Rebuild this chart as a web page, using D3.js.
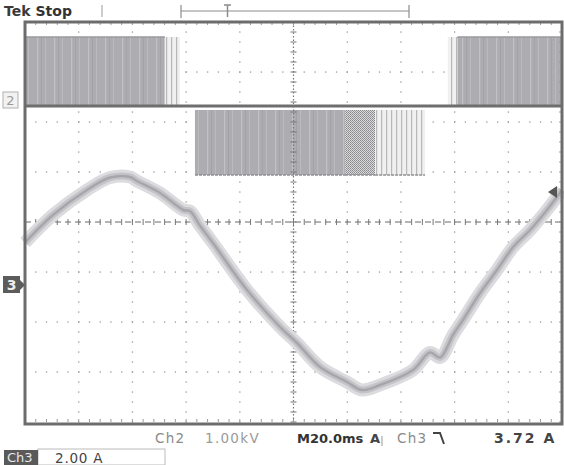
<!DOCTYPE html>
<html>
<head>
<meta charset="utf-8">
<script src="https://cdn.jsdelivr.net/npm/d3@7"></script>
<style>
  body { margin: 0; background: #fff; }
  svg { display: block; font-family: "DejaVu Sans", sans-serif; }
</style>
</head>
<body>
<div id="scope"></div>
<script>
// Ch3 current trace (time in ms, current in A)
const traceTime = [0, 10.4, 23.1, 31.7, 39.1, 41.7, 50.3, 59, 61.5, 65, 70, 82.7, 95, 101.3, 109.9, 119.9, 125.5, 132.2, 144.5, 150.8, 154.6, 159.4, 163.1, 169.5, 175.8, 181.8, 188.1, 194.4, 200];
const traceAmps = [1.7, 2.8, 3.8, 4.3, 4.32, 4.16, 3.68, 3.0, 2.95, 2.4, 1.68, -0.2, -1.68, -2.32, -3.28, -3.88, -4.2, -4.0, -3.4, -2.7, -2.9, -2.0, -1.4, -0.32, 0.6, 1.52, 2.2, 3.0, 3.8];

// switching bursts of the two gate channels (ms)
const ch2Dense = [[0, 52.1], [161, 200]];
const ch2Sparse = [[52.1, 57.7], [157.5, 161]];
const ch1Dense = [[63.3, 119.2]];
const ch1Dither = [[119.2, 130.4]];
const ch1Sparse = [[130.4, 149]];
const ch2High = 1.38;   // kV
const ch1High = 1.3;

// readouts
const topTitle = ['Tek', 'Stop'];
const readRow1 = [
  {text: 'Ch2', x: 155, color: '#8a8a8a', weight: 'normal', size: 13.5, ls: 1.3},
  {text: '1.00kV', x: 205, color: '#9a9a9a', weight: 'normal', size: 13.5, ls: 1.3},
  {text: 'M20.0ms', x: 297, color: '#333', weight: 'bold', size: 13, ls: 0},
  {text: 'A', x: 370, color: '#444', weight: 'bold', size: 13, ls: 0},
  {text: 'Ch3', x: 397, color: '#8a8a8a', weight: 'normal', size: 13.5, ls: 1.3},
  {text: '3.72 A', x: 494, color: '#444', weight: 'bold', size: 14, ls: 2}
];
const trigLevel = 3.72;
const ch3Scale = '2.00 A';

const W = 564, H = 465;
const plot = {left: 25, right: 562, top: 22, bottom: 422};

const svg = d3.select('#scope').append('svg')
    .attr('width', W)
    .attr('height', H);

const x = d3.scaleLinear().domain([0, 200]).range([plot.left, plot.right]);
const yDiv = d3.scaleLinear().domain([-4, 4]).range([plot.bottom, plot.top]);
// ch3: 2 A/div, ground 1.26 div below centre
const y3 = v => yDiv(v / 2 - 1.26);
const ch2Ground = 2.32, ch1Ground = 0.94;

// patterns for the burst fills
const defs = svg.append('defs');
const dense = defs.append('pattern').attr('id', 'dense')
    .attr('patternUnits', 'userSpaceOnUse').attr('width', 17).attr('height', 10);
dense.append('rect').attr('width', 17).attr('height', 10).attr('fill', '#acacb1');
dense.append('rect').attr('x', 3).attr('width', 1.2).attr('height', 10).attr('fill', '#c2c2c6');
dense.append('rect').attr('x', 11).attr('width', 1).attr('height', 10).attr('fill', '#bbbbbf');
dense.append('rect').attr('x', 7).attr('width', 1).attr('height', 10).attr('fill', '#a2a2a7');

const sparse = defs.append('pattern').attr('id', 'sparse')
    .attr('patternUnits', 'userSpaceOnUse').attr('width', 5).attr('height', 10);
sparse.append('rect').attr('width', 5).attr('height', 10).attr('fill', '#f0f0f0');
sparse.append('rect').attr('x', 1).attr('width', 1.2).attr('height', 10).attr('fill', '#b8b8b8');

const dither = defs.append('pattern').attr('id', 'dither')
    .attr('patternUnits', 'userSpaceOnUse').attr('width', 2).attr('height', 2);
dither.append('rect').attr('width', 2).attr('height', 2).attr('fill', '#dadada');
dither.append('rect').attr('width', 1).attr('height', 1).attr('fill', '#88888c');
dither.append('rect').attr('x', 1).attr('y', 1).attr('width', 1).attr('height', 1).attr('fill', '#98989c');

// graticule
const grid = svg.append('g');
const minorX = d3.range(0, 50.01, 1).map(i => plot.left + i * (plot.right - plot.left) / 50);
const minorY = d3.range(0, 40.01, 1).map(i => plot.top + i * (plot.bottom - plot.top) / 40);
const majorX = d3.range(1, 10).map(i => x(i * 20));
const majorY = d3.range(-3, 4).map(d => yDiv(d));

majorX.filter((d, i) => i !== 4).forEach(gx => {
  grid.selectAll(null).data(minorY).join('rect')
      .attr('x', gx - 0.6).attr('y', d => d - 0.6)
      .attr('width', 1.3).attr('height', 1.3).attr('fill', '#9a9a9a');
});
majorY.filter((d, i) => i !== 3).forEach(gy => {
  grid.selectAll(null).data(minorX).join('rect')
      .attr('x', d => d - 0.6).attr('y', gy - 0.6)
      .attr('width', 1.3).attr('height', 1.3).attr('fill', '#9a9a9a');
});

// bursts drawn under the centre axes
function bursts(list, fill, ground, high) {
  svg.selectAll(null).data(list).join('rect')
      .attr('x', d => x(d[0]))
      .attr('width', d => x(d[1]) - x(d[0]))
      .attr('y', yDiv(ground + high))
      .attr('height', yDiv(ground) - yDiv(ground + high))
      .attr('fill', fill);
}
bursts(ch2Dense, 'url(#dense)', ch2Ground, ch2High);
bursts(ch2Sparse, 'url(#sparse)', ch2Ground, ch2High);
bursts(ch1Dense, 'url(#dense)', ch1Ground, ch1High);
bursts(ch1Dither, 'url(#dither)', ch1Ground, ch1High);
bursts(ch1Sparse, 'url(#sparse)', ch1Ground, ch1High);

// top edges of bursts
svg.selectAll(null).data(ch2Dense).join('line')
    .attr('x1', d => x(d[0])).attr('x2', d => x(d[1]))
    .attr('y1', yDiv(ch2Ground + ch2High)).attr('y2', yDiv(ch2Ground + ch2High))
    .attr('stroke', '#9a9a9f').attr('stroke-width', 1.5);
svg.selectAll(null).data(ch1Dense.concat(ch1Dither, ch1Sparse)).join('line')
    .attr('x1', d => x(d[0])).attr('x2', d => x(d[1]))
    .attr('y1', yDiv(ch1Ground)).attr('y2', yDiv(ch1Ground))
    .attr('stroke', '#8e8e93').attr('stroke-width', 1.5).attr('stroke-dasharray', '3,1');

// ch2 ground line
svg.append('line')
    .attr('x1', plot.left).attr('x2', plot.right)
    .attr('y1', yDiv(ch2Ground)).attr('y2', yDiv(ch2Ground))
    .attr('stroke', '#6e6e6e').attr('stroke-width', 3);

// centre axes with ticks
const cx = x(100), cy = yDiv(0);
svg.append('line').attr('x1', plot.left).attr('x2', plot.right).attr('y1', cy).attr('y2', cy)
    .attr('stroke', '#6a6a6a').attr('stroke-width', 1.2).attr('stroke-dasharray', '6,4');
svg.append('line').attr('x1', cx).attr('x2', cx).attr('y1', plot.top).attr('y2', plot.bottom)
    .attr('stroke', '#777').attr('stroke-width', 1.2).attr('stroke-dasharray', '1.5,2');
svg.selectAll(null).data(minorX).join('line')
    .attr('x1', d => d).attr('x2', d => d).attr('y1', cy - 3).attr('y2', cy + 3)
    .attr('stroke', '#777').attr('stroke-width', 1);
svg.selectAll(null).data(minorY).join('line')
    .attr('x1', cx - 3).attr('x2', cx + 3).attr('y1', d => d).attr('y2', d => d)
    .attr('stroke', '#777').attr('stroke-width', 1);

// edge ticks
svg.selectAll(null).data(minorX).join('line')
    .attr('x1', d => d).attr('x2', d => d).attr('y1', plot.top).attr('y2', plot.top + 3)
    .attr('stroke', '#999');
svg.selectAll(null).data(minorX).join('line')
    .attr('x1', d => d).attr('x2', d => d).attr('y1', plot.bottom - 3).attr('y2', plot.bottom)
    .attr('stroke', '#999');
svg.selectAll(null).data(minorY).join('line')
    .attr('x1', plot.right - 3).attr('x2', plot.right).attr('y1', d => d).attr('y2', d => d)
    .attr('stroke', '#999');

// ch3 trace: soft band with a faint core
const traceData = traceTime.map((t, i) => [t, traceAmps[i]]);
const line = d3.line().x(d => x(d[0])).y(d => y3(d[1])).curve(d3.curveCatmullRom.alpha(0.5));
svg.append('path').datum(traceData).attr('d', line)
    .attr('fill', 'none').attr('stroke', '#dcdcdf').attr('stroke-width', 13).attr('stroke-linejoin', 'round');
svg.append('path').datum(traceData).attr('d', line)
    .attr('fill', 'none').attr('stroke', '#c4c4c8').attr('stroke-width', 7).attr('stroke-linejoin', 'round');
svg.append('path').datum(traceData).attr('d', line)
    .attr('fill', 'none').attr('stroke', '#a6a6ab').attr('stroke-width', 2.5);

// border
svg.append('rect')
    .attr('x', plot.left).attr('y', plot.top)
    .attr('width', plot.right - plot.left).attr('height', plot.bottom - plot.top + 2)
    .attr('fill', 'none').attr('stroke', '#6c6c6c').attr('stroke-width', 3);

// trigger level arrow
const ty = y3(trigLevel);
svg.append('path')
    .attr('d', `M${plot.right - 14},${ty} L${plot.right - 5},${ty - 6} L${plot.right - 5},${ty + 6} Z`)
    .attr('fill', '#555');

// channel markers
svg.append('rect').attr('x', 3).attr('y', yDiv(ch2Ground) - 14).attr('width', 15).attr('height', 16)
    .attr('fill', '#f2f2f2').attr('stroke', '#b0b0b0');
svg.append('text').attr('x', 10.5).attr('y', yDiv(ch2Ground) - 1).attr('text-anchor', 'middle')
    .attr('font-size', 13).attr('fill', '#999').text('2');
const g3 = y3(0);
svg.append('rect').attr('x', 3).attr('y', g3 - 9).attr('width', 17).attr('height', 17).attr('fill', '#5c5c5c');
svg.append('path').attr('d', `M20,${g3 - 5} L25,${g3} L20,${g3 + 5} Z`).attr('fill', '#5c5c5c');
svg.append('text').attr('x', 11.5).attr('y', g3 + 5).attr('text-anchor', 'middle')
    .attr('font-size', 14).attr('font-weight', 'bold').attr('fill', '#eee').text('3');

// title
const title = svg.append('text').attr('x', 4).attr('y', 16).attr('font-size', 14).attr('font-weight', 'bold');
title.append('tspan').attr('fill', '#3a3a3a').text(topTitle[0]);
title.append('tspan').attr('dx', 5).attr('fill', '#333').text(topTitle[1]);

// record bracket at top
const br = svg.append('g').attr('stroke', '#8c8c8c').attr('stroke-width', 1.2).attr('fill', 'none');
br.append('line').attr('x1', 181).attr('x2', 409).attr('y1', 11).attr('y2', 11);
br.append('line').attr('x1', 181).attr('x2', 181).attr('y1', 5).attr('y2', 18);
br.append('line').attr('x1', 409).attr('x2', 409).attr('y1', 5).attr('y2', 18);
br.append('line').attr('x1', 102).attr('x2', 102).attr('y1', 5).attr('y2', 17).attr('stroke', '#aaa');
br.append('path').attr('d', 'M224,5 L231,5 M227.5,5 L227.5,17').attr('stroke-width', 1.5);

// readouts
svg.selectAll('.read').data(readRow1).join('text')
    .attr('class', 'read')
    .attr('x', d => d.x).attr('y', 443)
    .attr('font-size', d => d.size)
    .attr('letter-spacing', d => d.ls)
    .attr('font-weight', d => d.weight)
    .attr('fill', d => d.color)
    .text(d => d.text);
svg.append('line').attr('x1', 382).attr('x2', 382).attr('y1', 436).attr('y2', 446).attr('stroke', '#999');
// falling edge symbol
svg.append('path').attr('d', 'M433,433 L440,433 L444,444').attr('fill', 'none')
    .attr('stroke', '#444').attr('stroke-width', 2);

// ch3 scale box
svg.append('rect').attr('x', 38).attr('y', 449).attr('width', 127).attr('height', 16)
    .attr('fill', 'none').attr('stroke', '#bbb');
svg.append('rect').attr('x', 4).attr('y', 450).attr('width', 34).attr('height', 15).attr('fill', '#5a5a5a');
svg.append('text').attr('x', 7).attr('y', 462).attr('font-size', 13).attr('fill', '#e8e8e8').text('Ch3');
svg.append('text').attr('x', 55).attr('y', 463).attr('font-size', 13.5).attr('letter-spacing', 0.8)
    .attr('fill', '#444').text(ch3Scale);
</script>
</body>
</html>
